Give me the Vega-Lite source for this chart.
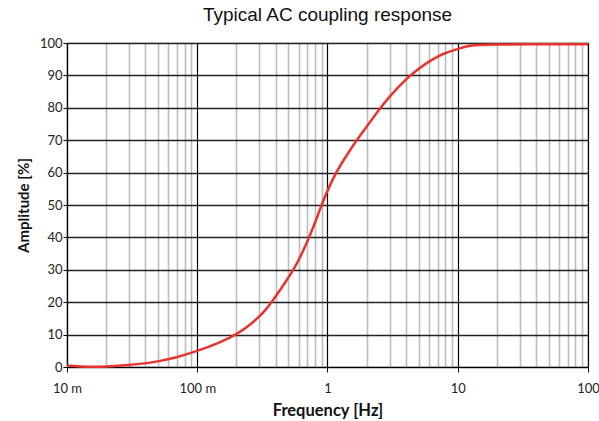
{
  "$schema": "https://vega.github.io/schema/vega-lite/v6.json",
  "width": 521,
  "height": 324,
  "autosize": {"type": "none"},
  "padding": {"left": 67, "top": 43, "right": 11, "bottom": 54},
  "background": "white",
  "title": {
    "text": "Typical AC coupling response",
    "font": "Liberation Sans",
    "fontSize": 19,
    "fontWeight": "normal",
    "color": "#111",
    "anchor": "middle",
    "offset": 12
  },
  "data": {
    "values": [
      {"freq": 0.01, "amp": 0.4},
      {"freq": 0.0125, "amp": 0.15},
      {"freq": 0.016, "amp": 0.0},
      {"freq": 0.02, "amp": 0.1},
      {"freq": 0.03, "amp": 0.6},
      {"freq": 0.04, "amp": 1.1},
      {"freq": 0.05, "amp": 1.7},
      {"freq": 0.07, "amp": 3.0},
      {"freq": 0.1, "amp": 4.9},
      {"freq": 0.15, "amp": 7.6},
      {"freq": 0.2, "amp": 10},
      {"freq": 0.26, "amp": 13.3},
      {"freq": 0.32, "amp": 16.6},
      {"freq": 0.373, "amp": 20},
      {"freq": 0.46, "amp": 25.3},
      {"freq": 0.562, "amp": 30.6},
      {"freq": 0.65, "amp": 35.8},
      {"freq": 0.733, "amp": 40.6},
      {"freq": 0.82, "amp": 45.5},
      {"freq": 0.9, "amp": 50},
      {"freq": 1.0, "amp": 54.5},
      {"freq": 1.16, "amp": 60},
      {"freq": 1.4, "amp": 65.3},
      {"freq": 1.67, "amp": 70},
      {"freq": 2.0, "amp": 74.2},
      {"freq": 2.55, "amp": 80},
      {"freq": 3, "amp": 83.5},
      {"freq": 4, "amp": 88.9},
      {"freq": 5, "amp": 92},
      {"freq": 6, "amp": 94.3},
      {"freq": 7, "amp": 95.8},
      {"freq": 8, "amp": 96.9},
      {"freq": 9, "amp": 97.6},
      {"freq": 10, "amp": 98.1},
      {"freq": 12, "amp": 99.2},
      {"freq": 15, "amp": 99.6},
      {"freq": 100, "amp": 99.6}
    ]
  },
  "layer": [
    {
      "mark": {"type": "line", "strokeOpacity": 0},
      "encoding": {
        "x": {
          "field": "freq",
          "type": "quantitative",
          "scale": {"type": "log", "domain": [0.01, 100]},
          "axis": {
            "orient": "bottom",
            "values": [0.02, 0.03, 0.04, 0.05, 0.06, 0.07, 0.08, 0.09,
                       0.2, 0.3, 0.4, 0.5, 0.6, 0.7, 0.8, 0.9,
                       2, 3, 4, 5, 6, 7, 8, 9,
                       20, 30, 40, 50, 60, 70, 80, 90],
            "grid": true,
            "gridColor": "#b9bcc0",
            "gridWidth": 1.6,
            "gridOpacity": 1,
            "labels": false,
            "ticks": false,
            "domain": false,
            "title": null
          }
        },
        "y": {
          "field": "amp",
          "type": "quantitative",
          "scale": {"domain": [0, 100]},
          "axis": {
            "values": [0, 10, 20, 30, 40, 50, 60, 70, 80, 90, 100],
            "grid": true,
            "gridColor": "#222",
            "gridWidth": 1.5,
            "gridOpacity": 1,
            "domainColor": "#000",
            "domainWidth": 1.2,
            "tickColor": "#000",
            "tickSize": 4,
            "labelPadding": 1,
            "labelFont": "Lato",
            "labelFontSize": 13,
            "labelColor": "#222",
            "title": "Amplitude [%]",
            "titleFont": "Lato",
            "titleFontSize": 15,
            "titleFontWeight": "bold",
            "titleColor": "#111",
            "titlePadding": 8
          }
        }
      }
    },
    {
      "mark": {"type": "line", "color": "#e8332f", "strokeWidth": 2.5, "interpolate": "basis"},
      "encoding": {
        "x": {
          "field": "freq",
          "type": "quantitative",
          "scale": {"type": "log", "domain": [0.01, 100]},
          "axis": {
            "orient": "bottom",
            "values": [0.01, 0.1, 1, 10, 100],
            "labelExpr": "datum.value < 1 ? format(datum.value * 1000, 'd') + ' m' : format(datum.value, 'd')",
            "grid": true,
            "gridColor": "#000",
            "gridWidth": 1.2,
            "gridOpacity": 1,
            "domainColor": "#000",
            "domainWidth": 1.2,
            "tickColor": "#000",
            "tickSize": 5,
            "labelPadding": 10,
            "labelFont": "Lato",
            "labelFontSize": 13,
            "labelColor": "#222",
            "labelFlush": false,
            "title": "Frequency [Hz]",
            "titleFont": "Lato",
            "titleFontSize": 16.5,
            "titleFontWeight": "bold",
            "titleColor": "#111",
            "titlePadding": 7
          }
        },
        "y": {
          "field": "amp",
          "type": "quantitative",
          "scale": {"domain": [0, 100]},
          "axis": {
            "values": [0, 10, 20, 30, 40, 50, 60, 70, 80, 90, 100],
            "grid": true,
            "gridColor": "#222",
            "gridWidth": 1.5,
            "gridOpacity": 1,
            "domainColor": "#000",
            "domainWidth": 1.2,
            "tickColor": "#000",
            "tickSize": 4,
            "labelPadding": 1,
            "labelFont": "Lato",
            "labelFontSize": 13,
            "labelColor": "#222",
            "title": "Amplitude [%]",
            "titleFont": "Lato",
            "titleFontSize": 15,
            "titleFontWeight": "bold",
            "titleColor": "#111",
            "titlePadding": 8
          }
        }
      }
    }
  ],
  "resolve": {"axis": {"x": "independent"}},
  "config": {
    "view": {"stroke": "#9a9a9a", "strokeWidth": 1.2}
  }
}
